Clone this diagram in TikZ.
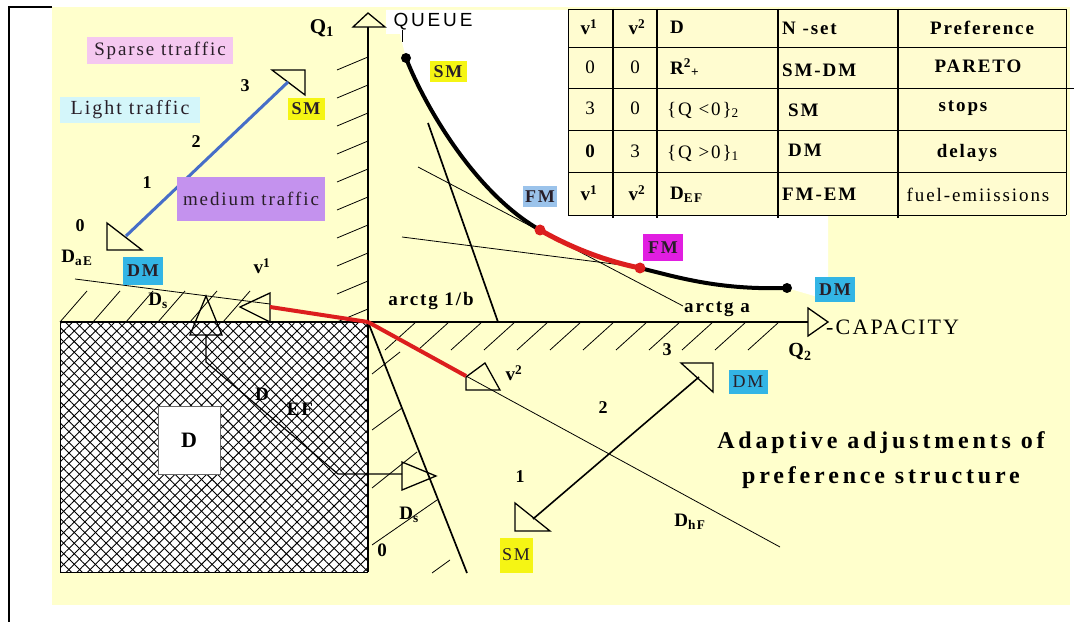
\documentclass[tikz,border=0pt]{standalone}
\usepackage{fontspec}
\setmainfont{Liberation Serif}[LetterSpace=10]
\newfontfamily\qsans{Liberation Sans}[LetterSpace=15]
\usetikzlibrary{patterns.meta}
\definecolor{bgy}{RGB}{255,255,204}
\definecolor{cellY}{RGB}{255,252,208}
\definecolor{dmC}{RGB}{51,181,229}
\definecolor{smY}{RGB}{245,245,20}
\definecolor{fmB}{RGB}{155,195,235}
\definecolor{emM}{RGB}{225,30,225}
\definecolor{pinkL}{RGB}{245,200,240}
\definecolor{cyanL}{RGB}{212,246,250}
\definecolor{purpM}{RGB}{196,146,238}
\definecolor{blueL}{RGB}{70,110,200}
\definecolor{redL}{RGB}{220,30,30}
\definecolor{txtD}{RGB}{40,30,40}
\tikzset{
  tb/.style={inner sep=0pt, font=\fontsize{19}{19}\selectfont\bfseries},
  tr/.style={inner sep=0pt, font=\fontsize{19}{19}\selectfont},
  num/.style={inner sep=0pt, font=\fontsize{18}{18}\selectfont\bfseries},
  lab/.style={inner sep=0pt, font=\fontsize{19}{19}\selectfont\bfseries},
  tag/.style={inner sep=0pt, font=\fontsize{18}{18}\selectfont\bfseries, text=txtD},
  opentri/.style={draw, line width=1.3pt, line join=miter},
  hatch/.style={draw, line width=0.8pt},
  thinln/.style={draw, line width=0.8pt},
  steep/.style={draw, line width=1.7pt},
  redln/.style={draw=redL, line width=4pt},
}
\begin{document}
\begin{tikzpicture}[x=1pt,y=-1pt]
\useasboundingbox (0,0) rectangle (1074,628);
\fill[white] (0,0) rectangle (1074,628);
% background
\fill[bgy] (52,7) rectangle (1070,605);
\draw[line width=1.2pt] (52,7) -- (9,7) -- (9,622);
% white area above the frontier
\coordinate (smp) at (406,58);
\coordinate (fmp) at (540,230);
\coordinate (emp) at (640,268);
\coordinate (dmp) at (787,288);
\fill[white] (386,10) -- (386,34) -- (400,34) -- (smp) .. controls (420,95) and (470,190) .. (fmp)
  .. controls (575,250) and (610,262) .. (emp) .. controls (680,278) and (720,290) .. (dmp)
  -- (828,300) -- (828,10) -- cycle;

% cross-hatched box
\coordinate (o) at (368,322);
\fill[white] (60,322) rectangle (368,572);
\fill[pattern={Lines[angle=45,distance=7.5pt,line width=0.9pt]}] (60,322) rectangle (368,572);
\fill[pattern={Lines[angle=-45,distance=7.5pt,line width=0.9pt]}] (60,322) rectangle (368,572);
\draw[line width=0.8pt] (368,322) -- (60,322) -- (60,572) -- (368,572);
\node[draw=black!60, fill=white, minimum width=62pt, minimum height=68pt, inner sep=0pt,
  font=\fontsize{22}{22}\selectfont\bfseries] (dbox) at (189,440) {D};

% hatches left of Q1
\foreach \y in {57,85,...,309} { \draw[hatch] (337,\y+13) -- (368,\y); }
% hatches above Q2 left of origin
\foreach \x in {60,93,126,158,190,223} { \draw[hatch] (\x,322) -- ++(27,-31); }
% hatches below Q2 right of origin
\foreach \x in {385,418,451,484,517,550,583,616,649,682,715,748} { \draw[hatch] (\x,350) -- ++(31,-28); }
% hatches between Q1 and lower steep line
\draw[hatch] (372,374) -- (400,352);
\draw[hatch] (372,430) -- (402,408);
\draw[hatch] (372,488) -- (417,452);
\draw[hatch] (372,545) -- (437,500);
\draw[hatch] (432,573) -- (450,560);

% axes
\coordinate (q1top) at (368,27);
\coordinate (q1bot) at (368,572);
\coordinate (q2l) at (60,322);
\coordinate (q2r) at (808,322);
\draw[line width=2.6pt] (q1top) -- (q1bot);
\draw[opentri] (353,27) -- (368,13) -- (385,27) -- cycle;
\draw[line width=1.4pt] (q2l) -- (q2r);
\draw[opentri] (808,308) -- (828,322) -- (808,336) -- cycle;
\draw[line width=0.9pt] (402,30) -- (402,42);

% tangent / support lines
\coordinate (ta1) at (418,167); \coordinate (ta2) at (683,306);
\draw[thinln] (ta1) -- (ta2);
\coordinate (tb1) at (402,237); \coordinate (tb2) at (645,268);
\draw[thinln] (tb1) -- (tb2);
\coordinate (st1) at (428,123); \coordinate (st2) at (498,322);
\draw[steep] (st1) -- (st2);
\coordinate (st3) at (467,573);
\draw[steep] (o) -- (st3);

% D_s line and v1 arrow
\coordinate (ds1) at (75,279); \coordinate (ds2) at (270,304);
\draw[thinln] (ds1) -- (ds2);
\draw[opentri] (270,293) -- (240,307) -- (270,322) -- cycle;
\coordinate (v1b) at (270,307);
\draw[redln] (v1b) -- (o);

% v2 arrow and D_hF line
\coordinate (v2a) at (466,376);
\coordinate (dh2) at (780,547);
\draw[thinln] (v2a) -- (dh2);
\draw[opentri] (466,377) -- (485,363) -- (500,390) -- (466,390) -- cycle;
\draw[redln] (o) -- (v2a);

% D_EF path with arrows
\draw[opentri] (206,296) -- (222,335) -- (190,335) -- cycle;
\coordinate (ef0) at (206,335);
\coordinate (ef3) at (402,474);
\draw[line width=1.2pt] (ef0) -- (206,362) -- (338,474) -- (ef3);
\draw[opentri] (402,462) -- (436,476) -- (402,490) -- cycle;

% blue traffic line
\draw[opentri] (107,223) -- (107,250) -- (142,250) -- cycle;
\draw[opentri] (272,70) -- (305,70) -- (305,95) -- cycle;
\coordinate (b0) at (126,236); \coordinate (b3) at (288,82);
\draw[blueL, line width=3pt] (b0) -- (b3);

% lower SM-DM line
\draw[opentri] (515,503) -- (515,531) -- (550,531) -- cycle;
\draw[opentri] (681,363) -- (713,363) -- (713,392) -- cycle;
\coordinate (l0) at (533,519); \coordinate (l3) at (699,377);
\draw[line width=1.6pt] (l0) -- (l3);

% frontier curve
\draw[line width=4pt] (smp) .. controls (420,95) and (470,190) .. (fmp);
\draw[redL, line width=5pt] (fmp) .. controls (575,250) and (610,262) .. (emp);
\draw[line width=4pt] (emp) .. controls (680,278) and (720,290) .. (dmp);
\fill (smp) circle[radius=5pt];
\fill (dmp) circle[radius=5pt];
\fill[redL] (fmp) circle[radius=5.5pt];
\fill[redL] (emp) circle[radius=5.5pt];

% coloured labels
\node[fill=pinkL, minimum width=146pt, minimum height=27pt, inner sep=0pt, font=\fontsize{19}{19}\selectfont, text=txtD] (sparse) at (160,51) {Sparse ttraffic};
\node[fill=cyanL, minimum width=140pt, minimum height=26pt, inner sep=0pt, font=\fontsize{20}{20}\selectfont, text=txtD] (light) at (130,110) {Light traffic};
\node[fill=purpM, minimum width=148pt, minimum height=44pt, inner sep=0pt, font=\fontsize{19}{19}\selectfont, text=txtD] (medium) at (251,199) {medium traffic};
\node[tag, fill=smY, minimum width=37pt, minimum height=22pt] (sm1) at (306,109) {SM};
\node[tag, fill=dmC, minimum width=40pt, minimum height=28pt] (dm1) at (143,271) {DM};
\node[tag, fill=smY, minimum width=37pt, minimum height=21pt] (sm2) at (448,72) {SM};
\node[tag, fill=fmB, minimum width=34pt, minimum height=21pt] (fm1) at (540,197) {FM};
\node[tag, fill=emM, minimum width=40pt, minimum height=27pt] (fm2) at (663,248) {FM};
\node[tag, fill=dmC, minimum width=40pt, minimum height=25pt] (dm2) at (835,290) {DM};
\node[tag, fill=dmC, minimum width=39pt, minimum height=24pt, font=\fontsize{18}{18}\selectfont] (dm3) at (748,382) {DM};
\node[tag, fill=smY, minimum width=33pt, minimum height=35pt, font=\fontsize{18}{18}\selectfont] (sm3) at (516,555) {SM};

% numbers
\node[num] (n0) at (80,226) {0};
\node[num] (n1) at (147,183) {1};
\node[num] (n2) at (196,142) {2};
\node[num] (n3) at (245,86) {3};
\node[num] (m1) at (520,477) {1};
\node[num] (m2) at (603,408) {2};
\node[num] (m3) at (667,350) {3};

% axis and line labels
\node[lab, font=\fontsize{21}{21}\selectfont\bfseries] (q1) at (322,28) {Q\textsubscript{1}};
\node[inner sep=0pt, font=\qsans\fontsize{19}{19}\selectfont] (queue) at (433,22) {QUEUE};
\node[lab] (arb) at (431,301) {arctg 1/b};
\node[lab] (ara) at (717,309) {arctg a};
\node[inner sep=0pt, anchor=west, font=\fontsize{22}{22}\selectfont] (cap) at (826,327) {-CAPACITY};
\node[lab, font=\fontsize{20}{20}\selectfont\bfseries] (q2) at (800,352) {Q\textsubscript{2}};
\node[lab] (v1l) at (262,266) {v\textsuperscript{1}};
\node[lab] (v2l) at (514,373) {v\textsuperscript{2}};
\node[lab] (dsl) at (158,301) {D\textsubscript{s}};
\node[lab] (dae) at (77,258) {D\textsubscript{aE}};
\node[lab] (defd) at (262,394) {D};
\node[lab] (defe) at (300,409) {EF};
\node[lab] (ds2l) at (409,515) {D\textsubscript{s}};
\node[lab] (th) at (382,550) {0};
\node[lab] (dhf) at (690,522) {D\textsubscript{hF}};
\node[align=center, inner sep=0pt, font=\fontsize{24}{35}\selectfont\bfseries\addfontfeatures{LetterSpace=16}] (adapt) at (881,460) {Adaptive adjustments of\\preference structure};

% table
\fill[cellY] (568,9) rectangle (1066,215);
\foreach \y in {9,47,88,130,172,215} { \draw[line width=0.9pt] (568,\y) -- (1066,\y); }
\draw[line width=0.9pt] (1066,88) -- (1074,88);
\draw[line width=0.9pt] (568,9) -- (568,215);
\draw[line width=0.9pt] (1066,9) -- (1066,215);
\foreach \x in {613,657,778,898} { \draw[line width=2.2pt] (\x,9) -- (\x,218); }
\node[tb] (t11) at (589,27) {v\textsuperscript{1}};
\node[tb] (t12) at (637,27) {v\textsuperscript{2}};
\node[tb, anchor=west] (t13) at (670,27) {D};
\node[tb, anchor=west] (t14) at (782,28) {N -set};
\node[tb] (t15) at (982,28) {Preference};
\node[tr] (t21) at (590,67) {0};
\node[tr] (t22) at (635,67) {0};
\node[tb, anchor=west] (t23) at (670,68) {R\textsuperscript{2}\textsubscript{+}};
\node[tb, anchor=west] (t24) at (782,70) {SM-DM};
\node[tb] (t25) at (978,66) {PARETO};
\node[tr] (t31) at (590,108) {3};
\node[tr] (t32) at (635,108) {0};
\node[tr, anchor=west] (t33) at (667,110) {\{Q <0\}\textsubscript{2}};
\node[tb, anchor=west] (t34) at (788,110) {SM};
\node[tb] (t35) at (963,108) {stops};
\node[tb] (t41) at (590,151) {0};
\node[tr] (t42) at (635,151) {3};
\node[tr, anchor=west] (t43) at (667,153) {\{Q >0\}\textsubscript{1}};
\node[tb, anchor=west] (t44) at (788,150) {DM};
\node[tb] (t45) at (967,153) {delays};
\node[tb] (t51) at (589,193) {v\textsuperscript{1}};
\node[tb] (t52) at (637,193) {v\textsuperscript{2}};
\node[tb, anchor=west] (t53) at (670,195) {D\textsubscript{EF}};
\node[tb, anchor=west] (t54) at (782,194) {FM-EM};
\node[tr] (t55) at (978,195) {fuel-emiissions};
\end{tikzpicture}
\end{document}
